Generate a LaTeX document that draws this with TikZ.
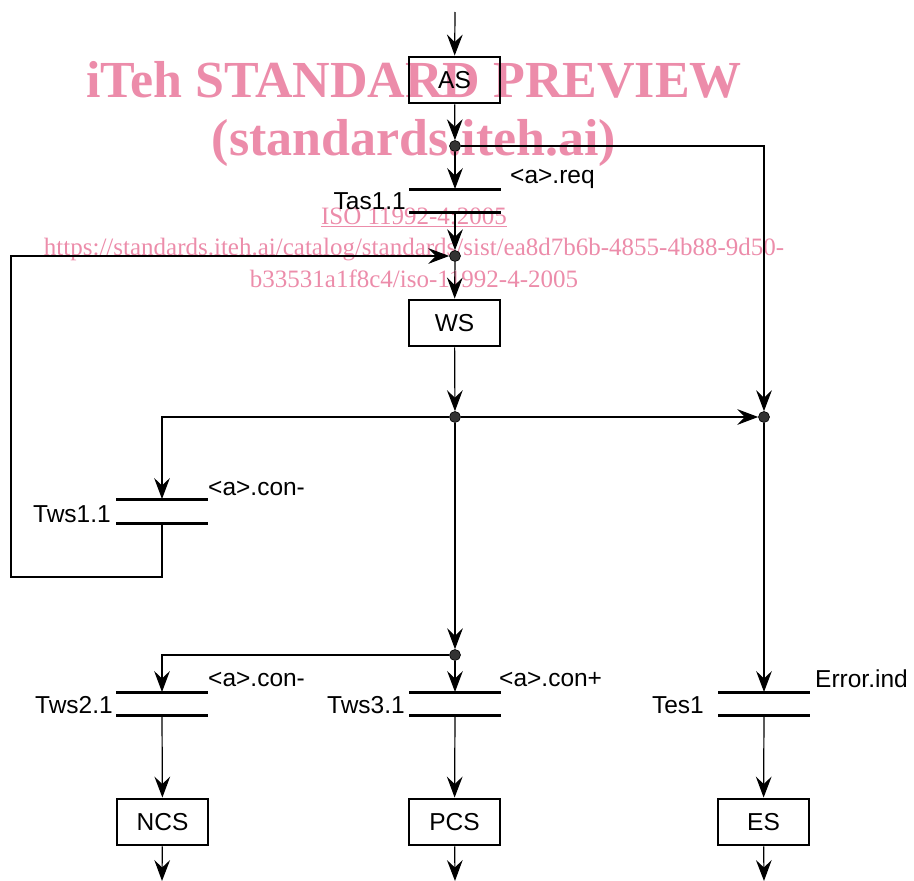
\documentclass[tikz,border=0pt]{standalone}
\usepackage{fontspec}
\setmainfont{Liberation Sans}
\newfontfamily\wmfont{Liberation Serif}
\usetikzlibrary{arrows.meta}
\definecolor{wmpink}{RGB}{236,140,170}
\begin{document}
\begin{tikzpicture}[x=1pt,y=-1pt,
  conn/.style={line width=1.2pt, -{Stealth[scale=2.5,inset=3pt]}},
  stepbox/.style={draw, line width=2.9pt, minimum width=91pt, minimum height=46pt, inner sep=0pt, font=\fontsize{24.5}{24.5}\selectfont},
  jdot/.style={circle, fill=black!80, draw=black, line width=0.6pt, inner sep=0pt, minimum size=11pt},
  tbar/.style={line width=3pt},
  lbl/.style={inner sep=0pt, font=\fontsize{24.5}{24.5}\selectfont},
  wmbig/.style={inner sep=0pt, text=wmpink, font=\wmfont\bfseries\fontsize{52}{52}\selectfont},
  wmsmall/.style={inner sep=0pt, text=wmpink, font=\wmfont\fontsize{25}{25}\selectfont}]
\useasboundingbox (0,0) rectangle (914,881);
% watermark
\node[wmbig, anchor=base] (wm1) at (414,97) {iTeh STANDARD PREVIEW};
\node[wmbig, anchor=base] (wm2) at (414,155) {(standards.iteh.ai)};
\node[wmsmall, anchor=base] (wm3) at (414,224) {\underline{ISO 11992-4:2005}};
\node[wmsmall, anchor=base] (wm4) at (414,255) {https://standards.iteh.ai/catalog/standards/sist/ea8d7b6b-4855-4b88-9d50-};
\node[wmsmall, anchor=base] (wm5) at (414,287) {b33531a1f8c4/iso-11992-4-2005};
% steps
\node[stepbox] (AS) at (454.5,80) {AS};
\node[stepbox] (WS) at (454.5,323) {WS};
\node[stepbox] (NCS) at (162.5,822) {NCS};
\node[stepbox] (PCS) at (454.5,822) {PCS};
\node[stepbox] (ES) at (763.5,822) {ES};
% junction dots
\node[jdot] (d1) at (455,146) {};
\node[jdot] (d2) at (455,256) {};
\node[jdot] (d3) at (455,417) {};
\node[jdot] (d4) at (764,417) {};
\node[jdot] (d5) at (455,655) {};
% transitions
\coordinate (t1a) at (455,189); \coordinate (t1b) at (455,212);
\coordinate (w1a) at (162,499); \coordinate (w1b) at (162,523);
\coordinate (w2a) at (162,692); \coordinate (w2b) at (162,715);
\coordinate (w3a) at (455,692); \coordinate (w3b) at (455,715);
\coordinate (e1a) at (764,692); \coordinate (e1b) at (764,715);
\foreach \c in {t1a,t1b,w1a,w1b,w2a,w2b,w3a,w3b,e1a,e1b}{
  \draw[tbar] ([xshift=-46pt]\c) -- ([xshift=46pt]\c);
}
% free ends
\coordinate (top) at (455,12);
\coordinate (fbl) at (11,577);
\coordinate (o1) at (162,881);
\coordinate (o2) at (455,881);
\coordinate (o3) at (764,881);
% connectors
\draw[conn] (top) -- (AS);
\draw[conn] (AS) -- (d1);
\draw[conn] (d1) -- (t1a);
\draw[conn] (d1) -| (d4);
\draw[conn] (t1b) -- (d2);
\draw[conn] (w1b) |- (fbl) |- (d2);
\draw[conn] (d2) -- (WS);
\draw[conn] (WS) -- (d3);
\draw[conn] (d3) -| (w1a);
\draw[conn] (d3) -- (d4);
\draw[conn] (d3) -- (d5);
\draw[conn] (d5) -| (w2a);
\draw[conn] (d5) -- (w3a);
\draw[conn] (d4) -- (e1a);
\draw[conn] (w2b) -- (NCS);
\draw[conn] (w3b) -- (PCS);
\draw[conn] (e1b) -- (ES);
\draw[conn] (NCS) -- (o1);
\draw[conn] (PCS) -- (o2);
\draw[conn] (ES) -- (o3);
% labels
\node[lbl, anchor=base west] (l1) at (510,183) {<a>.req};
\node[lbl, anchor=base east] (n1) at (406,209) {Tas1.1};
\node[lbl, anchor=base west] (l2) at (208,495) {<a>.con-};
\node[lbl, anchor=base east] (n2) at (111,522) {Tws1.1};
\node[lbl, anchor=base west] (l3) at (208,686) {<a>.con-};
\node[lbl, anchor=base east] (n3) at (113,713) {Tws2.1};
\node[lbl, anchor=base west] (l4) at (499,686) {<a>.con+};
\node[lbl, anchor=base east] (n4) at (405,713) {Tws3.1};
\node[lbl, anchor=base west] (l5) at (815,687) {Error.ind};
\node[lbl, anchor=base east] (n5) at (704,713) {Tes1};
\end{tikzpicture}
\end{document}
